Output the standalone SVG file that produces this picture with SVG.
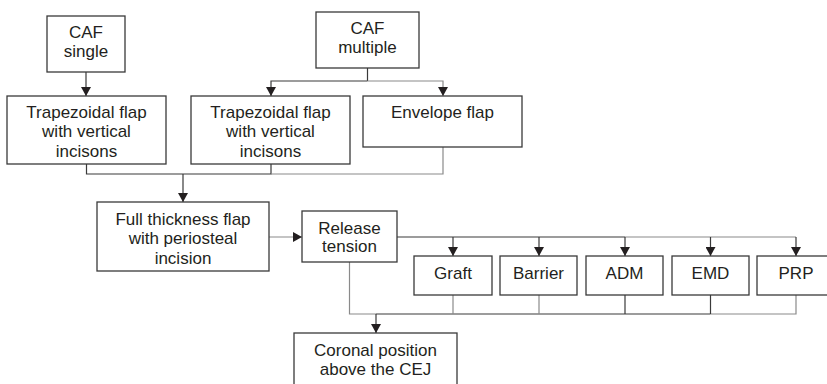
<svg xmlns="http://www.w3.org/2000/svg" width="827" height="384" viewBox="0 0 827 384">
<style>
.box{fill:#fff;stroke:#3a3a3a;stroke-width:1.3}
.t{font-family:"Liberation Sans",Arial,sans-serif;font-size:17px;fill:#231f20;text-anchor:middle}
.c{fill:none;stroke:#3a3a3a;stroke-width:1.2}
.g{fill:none;stroke:#8a8a8a;stroke-width:1.2}
.a{marker-end:url(#ah)}
</style>
<defs>
<marker id="ah" markerUnits="userSpaceOnUse" markerWidth="9" markerHeight="10" refX="9" refY="5" orient="auto">
<path d="M0,0 L9,5 L0,10 Z" fill="#231f20"/>
</marker>
</defs>
<rect width="827" height="384" fill="#fff"/>
<g id="connectors">
<path class="c a" d="M86,72 V96"/>
<path class="c" d="M367.5,68 V81"/>
<path class="c a" d="M367.5,81 H271 V96"/>
<path class="g a" d="M367.5,81 H443 V96"/>
<path class="c" d="M86.5,164 V174 H271 V164"/>
<path class="g" d="M271,174 H443 V147"/>
<path class="c a" d="M183,174 V202"/>
<path class="g a" d="M269,237 H302"/>
<path class="c" d="M397,237 H625" stroke-width="1.6"/>
<path class="g" d="M625,237 H796"/>
<path class="c a" d="M453,237 V256"/>
<path class="c a" d="M539,237 V256"/>
<path class="c a" d="M625,237 V256"/>
<path class="c a" d="M710.5,237 V256"/>
<path class="c a" d="M796,237 V256"/>
<path class="g" d="M349.5,262 V314 H376"/>
<path class="c" d="M376,314 H710.5"/>
<path class="g" d="M710.5,314 H796 V295"/>
<path class="g" d="M453,295 V314"/>
<path class="g" d="M539,295 V314"/>
<path class="c" d="M625,295 V314"/>
<path class="c" d="M710.5,295 V314"/>
<path class="c a" d="M376,314 V333"/>
</g>
<g id="caf-single"><rect class="box" x="47" y="16" width="78" height="56"/><text class="t" x="86" y="37.5">CAF</text><text class="t" x="86" y="56.5">single</text></g>
<g id="caf-multiple"><rect class="box" x="316" y="12" width="103" height="56"/><text class="t" x="367.5" y="33.5">CAF</text><text class="t" x="367.5" y="53">multiple</text></g>
<g id="trap1"><rect class="box" x="7" y="96" width="159" height="68"/><text class="t" x="86.5" y="117.5">Trapezoidal flap</text><text class="t" x="86.5" y="137">with vertical</text><text class="t" x="86.5" y="156.5">incisons</text></g>
<g id="trap2"><rect class="box" x="191" y="96" width="159" height="68"/><text class="t" x="270.5" y="117.5">Trapezoidal flap</text><text class="t" x="270.5" y="137">with vertical</text><text class="t" x="270.5" y="156.5">incisons</text></g>
<g id="envelope"><rect class="box" x="363" y="96" width="159" height="51"/><text class="t" x="442.5" y="117.5">Envelope flap</text></g>
<g id="full-thickness"><rect class="box" x="97" y="202" width="172" height="69"/><text class="t" x="183" y="224.5">Full thickness flap</text><text class="t" x="183" y="244">with periosteal</text><text class="t" x="183" y="263.5">incision</text></g>
<g id="release"><rect class="box" x="302" y="211" width="95" height="51"/><text class="t" x="349.5" y="233.5">Release</text><text class="t" x="349.5" y="252">tension</text></g>
<g id="graft"><rect class="box" x="414" y="256" width="78" height="39"/><text class="t" x="453" y="278.5">Graft</text></g>
<g id="barrier"><rect class="box" x="500" y="256" width="77" height="39"/><text class="t" x="538.5" y="278.5">Barrier</text></g>
<g id="adm"><rect class="box" x="586" y="256" width="77" height="39"/><text class="t" x="624.5" y="278.5">ADM</text></g>
<g id="emd"><rect class="box" x="672" y="256" width="77" height="39"/><text class="t" x="710.5" y="278.5">EMD</text></g>
<g id="prp"><rect class="box" x="757" y="256" width="78" height="39"/><text class="t" x="796" y="278.5">PRP</text></g>
<g id="coronal"><rect class="box" x="294" y="333" width="163" height="60"/><text class="t" x="375.5" y="355.5">Coronal position</text><text class="t" x="375.5" y="375">above the CEJ</text></g>
</svg>
